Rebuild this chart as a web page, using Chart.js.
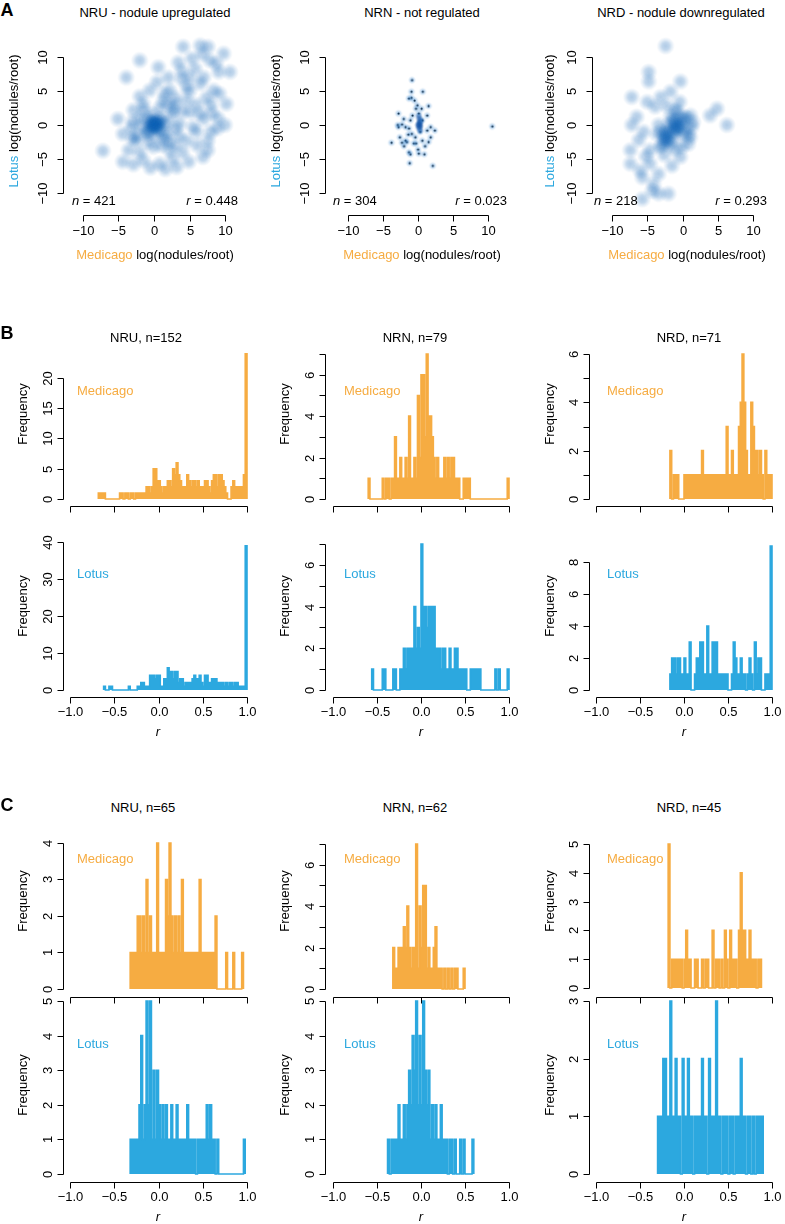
<!DOCTYPE html>
<html>
<head>
<meta charset="utf-8">
<script src="https://cdn.jsdelivr.net/npm/chart.js@4.4.1/dist/chart.umd.min.js"></script>
<style>
  body { margin: 0; background: #fff; }
  #fig { position: relative; width: 785px; height: 1224px; font-family: 'Liberation Sans', Arial, sans-serif; color: #000; overflow: hidden; }
  #fig canvas { position: absolute; }
  .t { position: absolute; white-space: nowrap; font-size: 13px; line-height: 1; }
</style>
</head>
<body>
<div id="fig"></div>
<script>
// ---- colours ----
const MED = '#F6AC42';
const LOT = '#2CA8DF';
const BIN = 0.02;

// ---- panel A: log(nodules/root), Medicago (x) vs Lotus (y) ----
const scatterTicks = [-10, -5, 0, 5, 10];
const scatterTickLabels = ['\u221210', '\u22125', '0', '5', '10'];

const nruPoints = [
  [-7.2,-3.8],[-2,9.5],[0.6,8.5],[-3.9,7],[-5.1,0.9],[-4.4,-1.3],[-4.4,-5.4],[-3.6,-3.7],
  [4.1,11.5],[6.5,11.7],[7.6,11.5],[9.8,10.5],[10.7,7.8],[9.1,7.8],[7.9,9.5],[5.3,9.8],
  [3.9,8.0],[3.9,6.8],[6.5,6.1],[8.4,5.1],[10.2,3.1],[10,0],[7.6,-2.3],[7.6,-3.7],[6.9,-4.7],
  [3.2,-6.2],[0.8,-5.7],[-1.5,-5.2],[-0.1,-3.2],[2.2,-3.7],[4.6,-2.3],[5.5,-0.3],[6.5,1.7],
  [4.6,3.6],[2.2,5.1],[1.3,3.6],[-0.6,5.1],[-1.5,3.1],[-2.9,2.2],[-2.5,-2.3],[2.7,2.2],
  [3.6,0.2],[1.8,-1.3],[-1.1,-1.3],[5,7],[7,7],[8,3],[6,-1],[2,7],[1,-3],[-2,-4],[-3,-2],
  [-2,1],[4,-4],[8,-1],[9,1],
  [6.8,10.4],[8.8,9.0],[5.8,8.3],[4.6,5.6],[7.4,4.0],[9.2,4.6],[8.9,-0.5],[7.0,0.9],
  [5.1,1.9],[3.5,-1.6],[2.6,-5.0],[1.6,-6.5],[-0.5,-6.3],[-2.9,-5.8],[-3.2,-0.4],[-2.0,4.2],
  [0.4,6.3],[1.5,4.6],[3.0,3.0],[2.0,-2.5],[6.1,-3.0],[8.2,1.8],[3.4,9.2],[4.9,-5.4],
  [0,0],[0.5,0.3],[-0.5,-0.4],[1,1],[-1,1],[1,-1],[-1,-0.8],[0.3,-1.5],[-0.3,1.6],[1.8,0.2],
  [-1.8,-0.2],[0.2,0.5],[-0.2,-0.2],[2.5,1.5],[-2.5,-1.5],[1.5,-2],[-1.5,2.2],[0.8,2.5],
  [-0.8,-2.5],[3,-0.5],[-3,0.5],[0.4,0.1],[-0.1,0.6],[0.6,-0.6],[2,3],[3,4],[4,2],[5,5],
  [6,3],[3,-3],[0.1,-0.3],[-0.4,0.2],[0.7,0.8],[1.2,0.3],[-0.7,-1.2],[0.2,-0.1],[-0.2,0.3],
  [0.5,-0.2],[-0.6,0.4]
];
const nrnPoints = [
  [-0.86,6.6],[-0.95,4.9],[0.67,4.9],[-1.3,3.9],[-0.95,4.0],[-0.5,3.6],[1.5,2.8],[-2.8,1.7],
  [-2.05,0.9],[-2.9,0],[-2.8,-0.3],[-2.6,-1.8],[-3.8,-2.6],[-2.3,-2.6],[-1.8,-2.3],[-1.3,-0.5],
  [-1.1,0.7],[-0.9,-1.3],[-0.6,-2.7],[-1.3,-4.0],[-1.1,-4.3],[0.1,-4.2],[0.9,-4.3],[-1.2,-5.6],
  [2.1,-6.0],[10.6,-0.2],[1.3,1.4],[1.3,-0.8],[1.8,-0.3],[2.4,-0.8],[0.6,-2.3],[1.0,-3.1],
  [-0.3,2.4],[0.1,1.7],[-1.8,-0.3],[-2.3,0.1],[-0.4,-1.8],[0.3,-1.0],[0.6,0.7],[-0.8,1.4],
  [-1.4,-1.4],[0,-3.6],[-0.3,-2.7],[1.5,-2.5],[1.8,-1.8],[-1.6,-2.5],[-2.0,-3.1],[0.5,2.4],
  [-0.1,2.9]
];
const nrnCore = [
  [0.2,0.4],[0.3,0],[0.1,-0.4],[0.2,0.9],[0.3,-0.8],[0.1,1.3],[0.2,0.2],[0.4,0.6],[0,0],[0.3,-0.3]
];
const nrdPoints = [
  [-2.4,11.6],[-4.8,7.8],[-4.8,6.4],[-0.3,6.4],[-7.2,4.1],[-5.0,3.4],[-3.1,4.1],[-1.7,4.9],
  [-3.9,2.7],[4.9,2.4],[3.9,1.4],[6.3,0],[1.1,1.4],[-0.8,2.2],[-1.7,1.2],[-7.2,0],[-6.5,1.2],
  [-5.5,-1.0],[-7.4,-3.7],[-7.4,-5.7],[-6.0,-6.7],[-5.7,-7.7],[-4.6,-5.7],[-3.4,-7.2],[-4.1,-8.7],
  [-4.3,-9.7],[-5.7,-10.9],[-3.4,-10.1],[-2.0,-10.1],[-4.6,-3.7],[-3.1,-3.2],[-1.7,-2.3],
  [-2.7,-1.8],[-0.3,-4.7],[-1.5,-6.0],[-0.1,-3.2],[1.1,-1.8],[0.2,-1.3],[-1.0,-0.8],[-0.3,0],
  [-2.2,-0.8],[-3.4,0],[-3.6,-1.3],[1.3,-0.3],[0.2,1.2],[-1.3,0.7],
  [-6.2,-2.2],[-5.2,-4.6],[-2.6,-4.4],[-1.0,-3.6],[0.8,-2.8],[-2.2,2.8],[-0.4,3.4],[1.5,0.4],
  [-1,0],[-0.5,-0.5],[-1.5,-0.8],[-2,-2],[-2.5,-2.5],[-1,-1.5],[0,0.5],[-0.5,1],[-2.5,-1.5],
  [-1.8,-3],[-3,-1],[0.5,-0.5],[-1.2,0.5],[-2.2,-1.2],[-0.8,-0.2],[0.5,1],[-3,-3],[-1,2],
  [-2,0],[0.8,-1.5],[-0.9,-0.4],[-2.3,-2.1]
];

// ---- panels B and C: histograms of r, bins of 0.02 starting at `from` ----
const rTicks = [-1, -0.5, 0, 0.5, 1];
const rTickLabels = ['\u22121.0', '\u22120.5', '0.0', '0.5', '1.0'];

const medNruB = { from: -0.68, counts: [1,1,1,1, 0,0,0,0,0,0,0,0, 1,1,0,1,1,0,1,1,0,1,1,1,1,1,1,2,
  2,1,2,5,5,3,3,2,1,2, 2,3,3,2,5,4,6,4,3,2, 2,2,4,3,2,3,3,2,3,2, 2,2,3,3,2,1,3,4,4,2,
  4,4,3,2,1,0,0,2,3,2, 2,2,2,2,4,24] };
const medNrnB = { from: -0.60, counts: [1, 0,0,0,0,0,0,0,
  1,0,1,1,0,1,1,3,1,1,2,1,1,2,1,4,1,1,2,1, 5,2,6,6,3,7,4,4,3,2,
  1,2,1,1,1,2,1,2,1,2,2,1,1,1,0,0,1,1,1,1, 0,0,0,0,0,0,0,0,0,0,0,0,0,0,0,0,0,0,0,0,0, 1] };
const medNrdB = { from: -0.16, counts: [2,0,1,1,1,0,0,0, 1,1,1,1,1,1,1,1,1,1, 2,
  1,1,1,1,1,1,1,1,1,1,1,1,1, 3,1,1,2,1,1,1,3,4,6,4,2,1,1,4,3,2,2,1,2,1,0,2,1,1,1] };
const lotNruB = { from: -0.62, counts: [1,0,0,1,1, 0,0,0,0,0,0,0,0,0, 1, 0,0,0,0,
  1,1,2,2,1,1,1,4,4,4, 3,4,4,1,1,3,3,6,5,5, 3,5,5,2,3,3,1,2,2,2, 2,3,4,3,3,4,2,1,4,4,
  2,2,3,3,3,2,2,2,2,1, 2,1,2,2,1,2,2,1,1,1, 1,39] };
const lotNrnB = { from: -0.56, counts: [1, 0,0,0,0,0, 1,1, 0,0,0,0, 1,1, 0,0,
  1,1,2,1,2,2,2,2,4,2, 3,2,7,4,4,3,4,4,4,4, 2,2,2,1,2,2,1,1,2,1, 1,2,2,1,1,1,1,1,0,0,
  1,1,1,1,1,1, 0,0,0,0,0,0,0,0, 1,0,1, 0,0,0,0, 1] };
const lotNrdB = { from: -0.16, counts: [1,2,2,1,2,2,1,1,2,1, 1,3,0,0,1,2,2,3,3,1,
  1,4,1,1,3,3,3,1,1,1, 1,1,1,0,0,1,3,2,1,1, 2,1,1,0,1,2,1,0,3,1, 2,2,0,0,1,1,1,9] };

const medNruC = { from: -0.32, counts: [1,1,1,1,2,2,1,2,1,3, 1,2,1,1,1,4,1,1,1,1,
  3,2,4,2,1,2,1,2,1,3, 1,1,1,1,1,1,1,1,1,3, 1,1,1,1,1,1,1,1,2,0, 0,0,0,0,1,0,0,0,1,0, 0,0,0,1] };
const medNrnC = { from: -0.32, counts: [2,1,1,2,2,2,3,2,4,2, 1,2,2,7,1,4,2,5,5,1,
  2,1,1,2,3,1,1,1,0,1, 0,1,0,1,0,1,1,0,0,0, 1] };
const medNrdC = { from: -0.18, counts: [5,0,1,1,1,1,1,1,0,1, 2,1,1,0,0,1,1,0,0,1,
  0,1,1,0,0,2,0,1,1,0, 1,0,2,1,0,2,1,1,1,0, 2,4,2,2,1,1,2,1,1,1, 0,1,1] };
const lotNruC = { from: -0.32, counts: [1,1,1,1,1,2,4,1,2,5, 2,5,1,3,1,3,2,1,2,1,
  2,1,1,2,1,1,2,1,1,1, 1,1,2,1,1,1,1,0,1,1, 1,1,1,2,1,2,1,1,0,1, 0,0,0,0,0,0,0,0,0,0, 0,0,0,0,1] };
const lotNrnC = { from: -0.38, counts: [1,0,1,1,1,1,2,1,1,2, 1,2,3,2,4,3,5,2,4,2,
  5,3,2,3,1,2,1,2,1,1, 2,1,1,1,0,1,1,0,1,0, 0,1,0,1,0,0,0,0,1] };
const lotNrdC = { from: -0.30, counts: [1,1,1,2,2,1,1,3,1,1, 2,1,1,0,2,1,1,2,1,1,
  0,1,1,1,1,2,1,1,0,2, 1,1,1,3,1,1,0,1,1,1, 0,1,1,0,1,1,1,2,1,1, 0,1,1,0,1,0,1,1,1,1] };

// ---- helpers ----
const fig = document.getElementById('fig');

function txt(html, x, y, o = {}) {
  const d = document.createElement('div');
  d.className = 't';
  d.innerHTML = html;
  d.style.left = x + 'px';
  d.style.top = y + 'px';
  if (o.size) d.style.fontSize = o.size + 'px';
  if (o.bold) d.style.fontWeight = 'bold';
  if (o.color) d.style.color = o.color;
  const ax = o.align === 'left' ? '0' : o.align === 'right' ? '-100%' : '-50%';
  d.style.transform = `translate(${ax},-50%)` + (o.rot ? ' rotate(-90deg)' : '');
  fig.appendChild(d);
}

// value range of a scale whose pixel span is [pA, pB], given two reference ticks
function span(v0, p0, v1, p1, pA, pB) {
  const k = (v1 - v0) / (p1 - p0);
  const a = v0 + (pA - p0) * k, b = v0 + (pB - p0) * k;
  return { min: Math.min(a, b), max: Math.max(a, b) };
}

// R-style axes: line only between first and last tick
const rAxes = {
  id: 'rAxes',
  afterDraw(chart, args, o) {
    const { ctx, chartArea: a, scales: { x, y } } = chart;
    ctx.save();
    ctx.strokeStyle = '#000';
    ctx.fillStyle = '#000';
    ctx.lineWidth = 1;
    ctx.font = '13px "Liberation Sans", Arial, sans-serif';
    ctx.textAlign = 'center';
    ctx.textBaseline = 'middle';

    const yb = Math.round(a.bottom) + 0.5;
    const xs = o.xTicks.map(v => Math.round(x.getPixelForValue(v)) + 0.5);
    ctx.beginPath();
    ctx.moveTo(xs[0], yb); ctx.lineTo(xs[xs.length - 1], yb);
    xs.forEach(p => { ctx.moveTo(p, yb); ctx.lineTo(p, yb + 6); });
    ctx.stroke();
    if (o.xLabels) o.xLabels.forEach((s, i) => ctx.fillText(s, xs[i], yb + o.xGap));

    const xl = Math.round(a.left) + 0.5;
    const ys = o.yTicks.map(v => Math.round(y.getPixelForValue(v)) + 0.5);
    ctx.beginPath();
    ctx.moveTo(xl, ys[0]); ctx.lineTo(xl, ys[ys.length - 1]);
    ys.forEach(p => { ctx.moveTo(xl, p); ctx.lineTo(xl - 6, p); });
    ctx.stroke();
    o.yLabels.forEach((s, i) => {
      if (!s) return;
      ctx.save();
      ctx.translate(xl - o.yGap, ys[i]);
      ctx.rotate(-Math.PI / 2);
      ctx.fillText(s, 0, 0);
      ctx.restore();
    });
    ctx.restore();
  }
};

function makeCanvas(box) {
  const c = document.createElement('canvas');
  c.width = box[2]; c.height = box[3];
  c.style.left = box[0] + 'px'; c.style.top = box[1] + 'px';
  c.style.width = box[2] + 'px'; c.style.height = box[3] + 'px';
  fig.appendChild(c);
  return c;
}

// g: { box:[l,t,w,h], area:[l,t,r,b], xref:[v0,p0,v1,p1], yref:[v0,p0,v1,p1] }
function baseOptions(g, axes) {
  const [l, t, r, b] = g.area;
  return {
    responsive: false,
    animation: false,
    events: [],
    layout: { autoPadding: false, padding: { left: l - g.box[0], top: t - g.box[1], right: g.box[0] + g.box[2] - r, bottom: g.box[1] + g.box[3] - b } },
    plugins: { legend: { display: false }, tooltip: { enabled: false }, rAxes: axes },
    scales: {
      x: Object.assign({ type: 'linear', display: false }, span(g.xref[0], g.xref[1], g.xref[2], g.xref[3], l, r)),
      y: Object.assign({ type: 'linear', display: false }, span(g.yref[0], g.yref[1], g.yref[2], g.yref[3], b, t))
    }
  };
}

function blob(radius, rgb, alpha) {
  const c = document.createElement('canvas');
  const s = radius * 2 + 2;
  c.width = c.height = s;
  const g = c.getContext('2d');
  const gr = g.createRadialGradient(s / 2, s / 2, 0, s / 2, s / 2, radius);
  gr.addColorStop(0, `rgba(${rgb},${alpha})`);
  gr.addColorStop(0.4, `rgba(${rgb},${alpha * 0.8})`);
  gr.addColorStop(0.7, `rgba(${rgb},${alpha * 0.35})`);
  gr.addColorStop(1, `rgba(${rgb},0)`);
  g.fillStyle = gr;
  g.fillRect(0, 0, s, s);
  return c;
}

function scatterChart(g, sets) {
  new Chart(makeCanvas(g.box), {
    type: 'scatter',
    data: {
      datasets: sets.map(s => ({
        data: s.points.map(p => ({ x: p[0], y: p[1] })),
        pointStyle: s.style,
        pointRadius: s.radius,
        backgroundColor: '#000',
        borderWidth: 0,
        clip: false
      }))
    },
    options: baseOptions(g, { xTicks: scatterTicks, xLabels: scatterTickLabels, xGap: 16,
      yTicks: scatterTicks, yLabels: scatterTickLabels, yGap: 20 }),
    plugins: [rAxes]
  });
}

function stepPoints(h) {
  const pts = [{ x: h.from, y: 0 }];
  h.counts.forEach((c, i) => pts.push({ x: h.from + i * BIN, y: c }));
  const end = h.from + h.counts.length * BIN;
  pts.push({ x: end, y: h.counts[h.counts.length - 1] });
  pts.push({ x: end, y: 0 });
  return pts;
}

function histChart(g, h, color, yTicks, yLabels, showX) {
  new Chart(makeCanvas(g.box), {
    type: 'line',
    data: {
      datasets: [{
        data: stepPoints(h),
        stepped: true,
        borderColor: color,
        backgroundColor: color,
        borderWidth: 1.6,
        fill: 'origin',
        pointRadius: 0,
        clip: false
      }]
    },
    options: baseOptions(g, { xTicks: rTicks, xLabels: showX ? rTickLabels : null, xGap: 15,
      yTicks, yLabels, yGap: 15 }),
    plugins: [rAxes]
  });
}

// ---- panel A ----
const big = blob(9, '10,95,180', 0.32);
const small = blob(4, '40,125,205', 0.4);
const core = blob(4, '15,80,165', 0.65);
const dot = blob(1.6, '0,0,0', 1);

scatterChart({ box: [0, 20, 262, 250], area: [63, 38, 244, 215], xref: [-10, 83, 10, 225], yref: [-10, 193, 10, 57] },
  [{ points: nruPoints, style: big, radius: 5 }]);
scatterChart({ box: [262, 20, 262, 250], area: [325, 38, 508, 215], xref: [-10, 348, 10, 488], yref: [-10, 193, 10, 57] },
  [{ points: nrnPoints, style: small, radius: 3 }, { points: nrnCore, style: core, radius: 3 },
   { points: nrnPoints, style: dot, radius: 1 }]);
scatterChart({ box: [524, 20, 261, 250], area: [592, 38, 773, 215], xref: [-10, 612, 10, 753], yref: [-10, 193, 10, 57] },
  [{ points: nrdPoints, style: big, radius: 5 }]);

// ---- panel B ----
const even7 = ['0', '', '2', '', '4', '', '6', ''];
histChart({ box: [0, 340, 262, 190], area: [63, 348, 250, 506], xref: [-1, 70, 1, 247], yref: [0, 499, 20, 378] },
  medNruB, MED, [0, 5, 10, 15, 20], ['0', '5', '10', '15', '20'], false);
histChart({ box: [262, 340, 262, 190], area: [325, 348, 512, 506], xref: [-1, 333, 1, 509], yref: [0, 499, 7, 354] },
  medNrnB, MED, [0, 1, 2, 3, 4, 5, 6, 7], even7, false);
histChart({ box: [524, 340, 261, 190], area: [589, 348, 775, 506], xref: [-1, 596, 1, 772], yref: [0, 499, 6, 354] },
  medNrdB, MED, [0, 1, 2, 3, 4, 5, 6], ['0', '', '2', '', '4', '', '6'], false);

histChart({ box: [0, 530, 262, 200], area: [63, 540, 250, 697], xref: [-1, 70, 1, 247], yref: [0, 690, 40, 542] },
  lotNruB, LOT, [0, 10, 20, 30, 40], ['0', '10', '20', '30', '40'], true);
histChart({ box: [262, 530, 262, 200], area: [325, 540, 512, 697], xref: [-1, 333, 1, 509], yref: [0, 690, 7, 544] },
  lotNrnB, LOT, [0, 1, 2, 3, 4, 5, 6, 7], even7, true);
histChart({ box: [524, 530, 261, 200], area: [589, 540, 775, 697], xref: [-1, 596, 1, 772], yref: [0, 690, 8, 562] },
  lotNrdB, LOT, [0, 2, 4, 6, 8], ['0', '2', '4', '6', '8'], true);

// ---- panel C ----
histChart({ box: [0, 825, 262, 190], area: [63, 838, 250, 997], xref: [-1, 70, 1, 247], yref: [0, 989, 4, 843] },
  medNruC, MED, [0, 1, 2, 3, 4], ['0', '1', '2', '3', '4'], false);
histChart({ box: [262, 825, 262, 190], area: [325, 838, 512, 997], xref: [-1, 333, 1, 509], yref: [0, 989, 7, 844] },
  medNrnC, MED, [0, 1, 2, 3, 4, 5, 6, 7], even7, false);
histChart({ box: [524, 825, 261, 190], area: [589, 838, 775, 997], xref: [-1, 596, 1, 772], yref: [0, 988, 5, 844] },
  medNrdC, MED, [0, 1, 2, 3, 4, 5], ['0', '1', '2', '3', '4', '5'], false);

histChart({ box: [0, 985, 262, 239], area: [63, 995, 250, 1182], xref: [-1, 70, 1, 247], yref: [0, 1174, 5, 1001] },
  lotNruC, LOT, [0, 1, 2, 3, 4, 5], ['0', '1', '2', '3', '4', '5'], true);
histChart({ box: [262, 985, 262, 239], area: [325, 995, 512, 1182], xref: [-1, 333, 1, 509], yref: [0, 1174, 5, 1001] },
  lotNrnC, LOT, [0, 1, 2, 3, 4, 5], ['0', '1', '2', '3', '4', '5'], true);
histChart({ box: [524, 985, 261, 239], area: [589, 995, 775, 1182], xref: [-1, 596, 1, 772], yref: [0, 1174, 3, 1001] },
  lotNrdC, LOT, [0, 1, 2, 3], ['0', '1', '2', '3'], true);

// ---- text ----
txt('A', 7, 10, { size: 18, bold: true });
txt('B', 7, 333, { size: 18, bold: true });
txt('C', 7, 805, { size: 18, bold: true });

txt('NRU - nodule upregulated', 155, 12);
txt('NRN - not regulated', 422, 12);
txt('NRD - nodule downregulated', 681, 12);

const nr = [[72, 238, '421', '0.448'], [333, 507, '304', '0.023'], [594, 767, '218', '0.293']];
nr.forEach(([l, r, n, rv]) => {
  txt('<i>n</i> = ' + n, l, 200, { align: 'left' });
  txt('<i>r</i> = ' + rv, r, 200, { align: 'right' });
});
[[155, 13], [422, 275], [687, 549]].forEach(([cx, yx]) => {
  txt(`<span style="color:${MED}">Medicago</span> log(nodules/root)`, cx, 254);
  txt(`<span style="color:${LOT}">Lotus</span> log(nodules/root)`, yx, 121, { rot: true });
});

txt('NRU, n=152', 146, 337); txt('NRN, n=79', 415, 337); txt('NRD, n=71', 689, 337);
txt('NRU, n=65', 143, 807); txt('NRN, n=62', 415, 807); txt('NRD, n=45', 689, 807);

const cols = [[22, 77, 158], [284, 344, 421], [549, 607, 684]];
cols.forEach(([fx, lx, rx]) => {
  txt('Frequency', fx, 414, { rot: true });
  txt('Frequency', fx, 606, { rot: true });
  txt('Frequency', fx, 901, { rot: true });
  txt('Frequency', fx, 1085, { rot: true });
  txt('Medicago', lx, 390, { align: 'left', color: MED });
  txt('Lotus', lx, 573, { align: 'left', color: LOT });
  txt('Medicago', lx, 858, { align: 'left', color: MED });
  txt('Lotus', lx, 1043, { align: 'left', color: LOT });
  txt('<i>r</i>', rx, 731);
  txt('<i>r</i>', rx, 1216);
});
</script>
</body>
</html>
